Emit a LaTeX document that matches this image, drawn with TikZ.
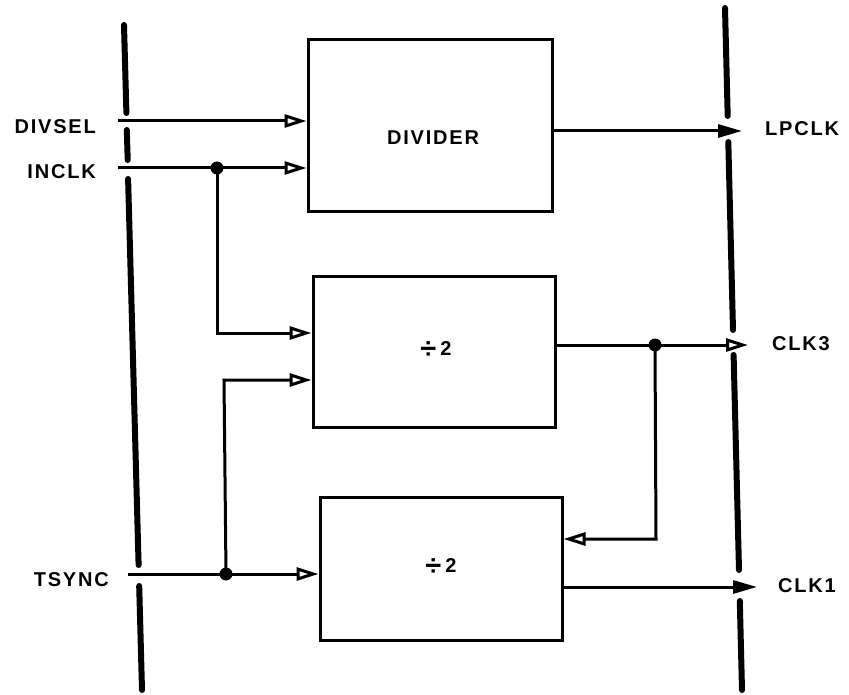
\documentclass[tikz,border=0pt]{standalone}
\usepackage{fontspec}
\setmainfont{Liberation Sans}
\usetikzlibrary{arrows.meta,calc}
\tikzset{
  blk/.style={draw, line width=3pt, minimum width=#1, inner sep=0pt},
  lbl/.style={font=\fontsize{20}{20}\selectfont\bfseries\addfontfeature{LetterSpace=9}, inner sep=0pt},
  wire/.style={line width=3pt},
  bus/.style={line width=6pt, line cap=round},
  hollow/.style={-{Triangle[open,length=22pt,width=13pt,line width=3pt]}},
  solid/.style={-{Triangle[length=24pt,width=13pt]}},
  jn/.style={circle, fill, inner sep=0pt, minimum size=13pt}
}
\newcommand{\halfdiv}{\raisebox{-2.5pt}{\scalebox{1.45}{÷}}\hspace{4pt}2}
\begin{document}
\begin{tikzpicture}[x=1pt,y=-1pt]
\useasboundingbox (0,0) rectangle (849,695);
% buses
\draw[bus] (124,25) -- (126.4,113);
\draw[bus] (126.8,130) -- (127.7,160);
\draw[bus] (128.1,179) -- (138.6,565);
\draw[bus] (139.2,586) -- (142,690);
\draw[bus] (725,8) -- (727.7,116);
\draw[bus] (728.3,142) -- (733,330);
\draw[bus] (733.6,355) -- (739,570);
\draw[bus] (739.8,601) -- (742,690);
% blocks
\node[blk=244pt, minimum height=172pt] (b1) at (430,126) {};
\node[blk=242pt, minimum height=150pt] (b2) at (434,352) {};
\node[blk=242pt, minimum height=143pt] (b3) at (441,568.5) {};
\node[lbl] (t1) at (433,138) {DIVIDER};
\node[lbl] (t2) at (436,350) {\halfdiv};
\node[lbl] (t3) at (441,567) {\halfdiv};
% labels
\node[lbl, anchor=east] (ldivsel) at (96,127) {DIVSEL};
\node[lbl, anchor=east] (lincl) at (96,172) {INCLK};
\node[lbl, anchor=east] (ltsync) at (109,580) {TSYNC};
\node[lbl, anchor=west] (llp) at (765,129) {LPCLK};
\node[lbl, anchor=west] (lc3) at (772,344) {CLK3};
\node[lbl, anchor=west] (lc1) at (778,586) {CLK1};
% coordinates
\coordinate (divsel) at (118,121);
\coordinate (inclk) at (118,168);
\coordinate (tsync) at (128,574);
\node[jn] (j1) at (217,168) {};
\node[jn] (j2) at (226,574) {};
\node[jn] (j3) at (655,345) {};
\coordinate (lp) at (742,131);
\coordinate (c3) at (748,345);
\coordinate (c1) at (757,587);
% wires
\draw[wire, hollow] (divsel) -- (divsel -| b1.west);
\draw[wire, hollow] (inclk) -- (inclk -| b1.west);
\draw[wire, hollow] (j1.center) -- (217,333) -- (b2.west |- 0,333);
\draw[wire, hollow] (tsync) -- (tsync -| b3.west);
\draw[wire, hollow] (j2.center) -- (224,380) -- (b2.west |- 0,380);
\draw[wire, solid] (b1.east |- lp) -- (lp);
\draw[wire, hollow] (b2.east |- c3) -- (c3);
\draw[wire, hollow] (j3.center) -- (656,539) -- (b3.east |- 0,539);
\draw[wire, solid] (b3.east |- c1) -- (c1);
\end{tikzpicture}
\end{document}
